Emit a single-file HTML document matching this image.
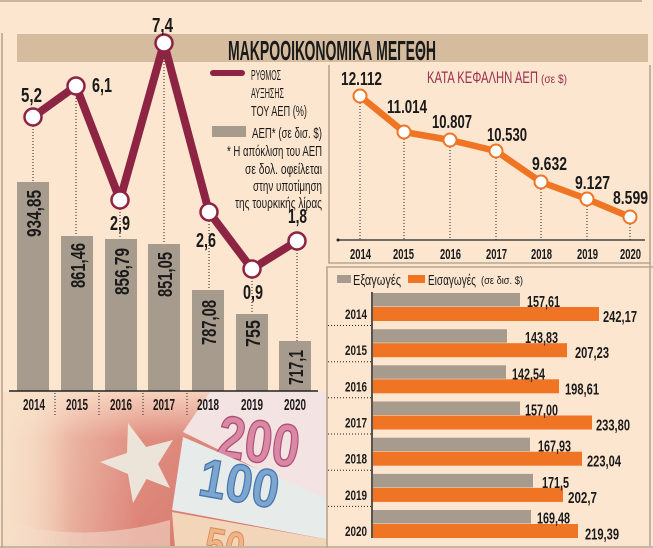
<!DOCTYPE html>
<html><head><meta charset="utf-8"><style>
html,body{margin:0;padding:0;background:#fde6cf;}
svg{display:block;}
text{font-family:"Liberation Sans",sans-serif;}
.b{font-weight:bold;fill:#1a1a1a;}
</style></head><body>
<svg width="653" height="548" viewBox="0 0 653 548" xmlns="http://www.w3.org/2000/svg">
<defs>
<linearGradient id="flag" x1="0" y1="0" x2="1" y2="0">
<stop offset="0" stop-color="#f6dcc6"/>
<stop offset="0.1" stop-color="#f1cdb6"/>
<stop offset="0.25" stop-color="#e6a696"/>
<stop offset="0.42" stop-color="#dc8276"/>
<stop offset="1" stop-color="#cf6a62"/>
</linearGradient>
<linearGradient id="fadeTop" x1="0" y1="0" x2="0" y2="1">
<stop offset="0" stop-color="#fde6cf" stop-opacity="0.8"/>
<stop offset="0.3" stop-color="#fde6cf" stop-opacity="0.12"/>
<stop offset="1" stop-color="#fde6cf" stop-opacity="0"/>
</linearGradient>
<linearGradient id="fadeLeft" x1="0" y1="0" x2="1" y2="0">
<stop offset="0" stop-color="#f8e0c8" stop-opacity="0.85"/>
<stop offset="1" stop-color="#f8e0c8" stop-opacity="0"/>
</linearGradient>
<clipPath id="photo"><rect x="3" y="392" width="323" height="154"/></clipPath>
</defs>
<rect width="653" height="548" fill="#fde6cf"/>

<!-- photo -->
<g clip-path="url(#photo)">
<rect x="0" y="392" width="330" height="156" fill="url(#flag)"/>
<path d="M0 520 Q80 545 170 520 L170 548 L0 548 Z" fill="#f1d9c8" opacity="0.6"/>
<polygon points="128,423 146,447 173,440 158,464 170,488 146.5,479 133,503 128,474 100,462 127,453" fill="#ebe4da"/>
<rect x="0" y="392" width="330" height="156" fill="url(#fadeTop)"/>
<rect x="0" y="392" width="70" height="156" fill="url(#fadeLeft)"/>
<polygon points="210,392 330,392 330,505 183,432" fill="#f3e3e2"/>
<text x="218" y="462" font-size="60" font-weight="bold" textLength="82" lengthAdjust="spacingAndGlyphs" fill="#d988a6" stroke="#b04f74" stroke-width="1.4" transform="rotate(8 258 440)">200</text>
<polygon points="183,437 330,500 330,540 172,510" fill="#e7ecea"/>
<text x="200" y="502" font-size="54" font-weight="bold" textLength="80" lengthAdjust="spacingAndGlyphs" fill="#7ca6d0" stroke="#4778ad" stroke-width="1.4" transform="rotate(10 240 480)">100</text>
<polygon points="172,512 330,540 330,548 175,548" fill="#f3d5ba"/>
<text x="205" y="562" font-size="46" font-weight="bold" textLength="40" lengthAdjust="spacingAndGlyphs" fill="#eeb48a" stroke="#d98850" stroke-width="1" transform="rotate(10 225 545)">50</text>
</g>

<!-- frame lines -->
<g stroke="#b8a690" stroke-width="1.6" fill="none">
<line x1="0" y1="1" x2="642" y2="1"/>
<line x1="2" y1="33" x2="2" y2="548"/>
<line x1="0" y1="547" x2="653" y2="547"/>
<polyline points="329,65 329,263 651,263"/>
<line x1="650" y1="65" x2="650" y2="546"/>
<polyline points="327,548 327,267 653,267"/>
</g>

<!-- title bar -->
<rect x="17" y="34" width="631" height="28" fill="#d5bc9e"/>
<text class="b" x="228" y="60" font-size="28" textLength="208" lengthAdjust="spacingAndGlyphs">ΜΑΚΡΟΟΙΚΟΝΟΜΙΚΑ ΜΕΓΕΘΗ</text>

<!-- left bars -->
<g fill="#a69b8c">
<rect x="17" y="182" width="32" height="209"/>
<rect x="61" y="236" width="32" height="155"/>
<rect x="105" y="239" width="32" height="152"/>
<rect x="148" y="244" width="32" height="147"/>
<rect x="192" y="290" width="32" height="101"/>
<rect x="236" y="314" width="32" height="77"/>
<rect x="279" y="341" width="32" height="50"/>
</g>
<g class="b" font-size="20">
<text class="b" transform="translate(41,237) rotate(-90)" textLength="47" lengthAdjust="spacingAndGlyphs">934,85</text>
<text class="b" transform="translate(85,288) rotate(-90)" textLength="45" lengthAdjust="spacingAndGlyphs">861,46</text>
<text class="b" transform="translate(129,295) rotate(-90)" textLength="47" lengthAdjust="spacingAndGlyphs">856,79</text>
<text class="b" transform="translate(172,297) rotate(-90)" textLength="45" lengthAdjust="spacingAndGlyphs">851,05</text>
<text class="b" transform="translate(216,345) rotate(-90)" textLength="45" lengthAdjust="spacingAndGlyphs">787,08</text>
<text class="b" transform="translate(260,347) rotate(-90)" textLength="27" lengthAdjust="spacingAndGlyphs">755</text>
<text class="b" transform="translate(303,385) rotate(-90)" textLength="35" lengthAdjust="spacingAndGlyphs">717,1</text>
</g>

<!-- dotted lines left -->
<g stroke="#222" stroke-width="1" stroke-dasharray="1,2">
<line x1="33" y1="126" x2="33" y2="182"/>
<line x1="76" y1="95" x2="76" y2="236"/>
<line x1="120" y1="209" x2="120" y2="239"/>
<line x1="164" y1="52" x2="164" y2="244"/>
<line x1="209" y1="221" x2="209" y2="290"/>
<line x1="252" y1="278" x2="252" y2="314"/>
<line x1="297" y1="250" x2="297" y2="341"/>
<line x1="55" y1="393" x2="55" y2="415"/>
<line x1="99" y1="393" x2="99" y2="415"/>
<line x1="143" y1="393" x2="143" y2="415"/>
<line x1="187" y1="393" x2="187" y2="415"/>
</g>
<line x1="9" y1="391" x2="318" y2="391" stroke="#222" stroke-width="1.5"/>
<g font-size="16">
<text class="b" x="23" y="410" textLength="22" lengthAdjust="spacingAndGlyphs">2014</text>
<text class="b" x="66" y="410" textLength="22" lengthAdjust="spacingAndGlyphs">2015</text>
<text class="b" x="110" y="410" textLength="22" lengthAdjust="spacingAndGlyphs">2016</text>
<text class="b" x="153" y="410" textLength="22" lengthAdjust="spacingAndGlyphs">2017</text>
<text class="b" x="197" y="410" textLength="22" lengthAdjust="spacingAndGlyphs">2018</text>
<text class="b" x="241" y="410" textLength="22" lengthAdjust="spacingAndGlyphs">2019</text>
<text class="b" x="284" y="410" textLength="22" lengthAdjust="spacingAndGlyphs">2020</text>
</g>

<!-- burgundy line -->
<polyline points="33,117 76,86 120,200 164,43 209,212 252,269 297,241" fill="none" stroke="#8e2443" stroke-width="8" stroke-linejoin="round"/>
<g fill="#fff" stroke="#8e2443" stroke-width="2.5">
<circle cx="33" cy="117" r="8.5"/>
<circle cx="76" cy="86" r="8.5"/>
<circle cx="120" cy="200" r="8.5"/>
<circle cx="164" cy="43" r="8.5"/>
<circle cx="209" cy="212" r="8.5"/>
<circle cx="252" cy="269" r="8.5"/>
<circle cx="297" cy="241" r="8.5"/>
</g>
<g font-size="20">
<text class="b" x="21" y="102" textLength="21" lengthAdjust="spacingAndGlyphs">5,2</text>
<text class="b" x="92" y="92" textLength="20" lengthAdjust="spacingAndGlyphs">6,1</text>
<text class="b" x="110" y="230" textLength="20" lengthAdjust="spacingAndGlyphs">2,9</text>
<text class="b" x="152" y="32" textLength="21" lengthAdjust="spacingAndGlyphs">7,4</text>
<text class="b" x="196" y="247" textLength="20" lengthAdjust="spacingAndGlyphs">2,6</text>
<text class="b" x="243" y="299" textLength="20" lengthAdjust="spacingAndGlyphs">0,9</text>
<text class="b" x="288" y="223" textLength="19" lengthAdjust="spacingAndGlyphs">1,8</text>
</g>

<!-- legend left -->
<line x1="213" y1="73" x2="242" y2="73" stroke="#8e2443" stroke-width="6" stroke-linecap="round"/>
<g font-size="15" fill="#1a1a1a">
<text x="251" y="80" textLength="30" lengthAdjust="spacingAndGlyphs">ΡΥΘΜΟΣ</text>
<text x="251" y="98" textLength="33" lengthAdjust="spacingAndGlyphs">ΑΥΞΗΣΗΣ</text>
<text x="251" y="116" textLength="56" lengthAdjust="spacingAndGlyphs">ΤΟΥ ΑΕΠ (%)</text>
<text x="252" y="138" textLength="70" lengthAdjust="spacingAndGlyphs">ΑΕΠ* (σε δισ. $)</text>
<text x="227" y="156" textLength="95" lengthAdjust="spacingAndGlyphs">* Η απόκλιση του ΑΕΠ</text>
<text x="245" y="174" textLength="77" lengthAdjust="spacingAndGlyphs">σε δολ. οφείλεται</text>
<text x="253" y="191" textLength="69" lengthAdjust="spacingAndGlyphs">στην υποτίμηση</text>
<text x="235" y="208" textLength="87" lengthAdjust="spacingAndGlyphs">της τουρκικής λίρας</text>
</g>
<rect x="212" y="126" width="34" height="11" fill="#a69b8c"/>

<!-- right top chart -->
<text x="427" y="83" font-size="17" fill="#9a2f4e" textLength="111" lengthAdjust="spacingAndGlyphs">ΚΑΤΑ ΚΕΦΑΛΗΝ ΑΕΠ</text>
<text x="541" y="83" font-size="12" fill="#9a2f4e" textLength="26" lengthAdjust="spacingAndGlyphs">(σε $)</text>
<g stroke="#222" stroke-width="1" stroke-dasharray="1,2">
<line x1="360" y1="103" x2="360" y2="240"/>
<line x1="404" y1="139" x2="404" y2="240"/>
<line x1="450" y1="147" x2="450" y2="240"/>
<line x1="496" y1="158" x2="496" y2="240"/>
<line x1="541" y1="189" x2="541" y2="240"/>
<line x1="587" y1="206" x2="587" y2="240"/>
<line x1="630" y1="224" x2="630" y2="240"/>
</g>
<line x1="338" y1="240" x2="645" y2="240" stroke="#222" stroke-width="1.3"/>
<circle cx="338" cy="240" r="1.5" fill="#222"/>
<polyline points="360,96 404,132 450,140 496,151 541,182 587,199 630,217" fill="none" stroke="#ef7424" stroke-width="6.5" stroke-linejoin="round"/>
<g fill="#fff" stroke="#ef7424" stroke-width="2">
<circle cx="360" cy="96" r="6.5"/>
<circle cx="404" cy="132" r="6.5"/>
<circle cx="450" cy="140" r="6.5"/>
<circle cx="496" cy="151" r="6.5"/>
<circle cx="541" cy="182" r="6.5"/>
<circle cx="587" cy="199" r="6.5"/>
<circle cx="630" cy="217" r="6.5"/>
</g>
<g font-size="18">
<text class="b" x="341" y="85" textLength="41" lengthAdjust="spacingAndGlyphs">12.112</text>
<text class="b" x="387" y="113" textLength="40" lengthAdjust="spacingAndGlyphs">11.014</text>
<text class="b" x="432" y="128" textLength="40" lengthAdjust="spacingAndGlyphs">10.807</text>
<text class="b" x="487" y="141" textLength="40" lengthAdjust="spacingAndGlyphs">10.530</text>
<text class="b" x="532" y="170" textLength="35" lengthAdjust="spacingAndGlyphs">9.632</text>
<text class="b" x="575" y="189" textLength="35" lengthAdjust="spacingAndGlyphs">9.127</text>
<text class="b" x="613" y="204" textLength="35" lengthAdjust="spacingAndGlyphs">8.599</text>
</g>
<g font-size="15">
<text class="b" x="350" y="259" textLength="21" lengthAdjust="spacingAndGlyphs">2014</text>
<text class="b" x="393" y="259" textLength="21" lengthAdjust="spacingAndGlyphs">2015</text>
<text class="b" x="440" y="259" textLength="21" lengthAdjust="spacingAndGlyphs">2016</text>
<text class="b" x="486" y="259" textLength="21" lengthAdjust="spacingAndGlyphs">2017</text>
<text class="b" x="531" y="259" textLength="21" lengthAdjust="spacingAndGlyphs">2018</text>
<text class="b" x="577" y="259" textLength="21" lengthAdjust="spacingAndGlyphs">2019</text>
<text class="b" x="620" y="259" textLength="21" lengthAdjust="spacingAndGlyphs">2020</text>
</g>

<!-- right bottom chart -->
<rect x="337" y="275" width="14" height="8" fill="#a69b8c"/>
<text x="353" y="285" font-size="15" fill="#1a1a1a" textLength="48" lengthAdjust="spacingAndGlyphs">Εξαγωγές</text>
<rect x="408" y="275" width="17" height="8" fill="#ef7424"/>
<text x="428" y="285" font-size="15" fill="#1a1a1a" textLength="48" lengthAdjust="spacingAndGlyphs">Εισαγωγές</text>
<text x="481" y="284" font-size="11" fill="#1a1a1a" textLength="42" lengthAdjust="spacingAndGlyphs">(σε δισ. $)</text>

<g fill="#a69b8c">
<rect x="373" y="293" width="147" height="13.5"/>
<rect x="373" y="329.2" width="134" height="13.5"/>
<rect x="373" y="365.3" width="133" height="13.5"/>
<rect x="373" y="401.5" width="147" height="13.5"/>
<rect x="373" y="437.7" width="157" height="13.5"/>
<rect x="373" y="473.9" width="160" height="13.5"/>
<rect x="373" y="510" width="158" height="13.5"/>
</g>
<g fill="#ef7424">
<rect x="373" y="307" width="226" height="14"/>
<rect x="373" y="343.2" width="194" height="14"/>
<rect x="373" y="379.3" width="186" height="14"/>
<rect x="373" y="415.5" width="219" height="14"/>
<rect x="373" y="451.7" width="209" height="14"/>
<rect x="373" y="487.9" width="190" height="14"/>
<rect x="373" y="524" width="205" height="14"/>
</g>
<line x1="372" y1="292" x2="372" y2="538" stroke="#222" stroke-width="1.5"/>
<g stroke="#222" stroke-width="1" stroke-dasharray="1,2">
<line x1="328" y1="325.5" x2="371" y2="325.5"/>
<line x1="328" y1="361.7" x2="371" y2="361.7"/>
<line x1="328" y1="397.8" x2="371" y2="397.8"/>
<line x1="328" y1="434" x2="371" y2="434"/>
<line x1="328" y1="470.2" x2="371" y2="470.2"/>
<line x1="328" y1="506.4" x2="371" y2="506.4"/>
</g>
<g font-size="14">
<text class="b" x="345" y="319" textLength="22" lengthAdjust="spacingAndGlyphs">2014</text>
<text class="b" x="345" y="355.2" textLength="22" lengthAdjust="spacingAndGlyphs">2015</text>
<text class="b" x="345" y="391.3" textLength="22" lengthAdjust="spacingAndGlyphs">2016</text>
<text class="b" x="345" y="427.5" textLength="22" lengthAdjust="spacingAndGlyphs">2017</text>
<text class="b" x="345" y="463.7" textLength="22" lengthAdjust="spacingAndGlyphs">2018</text>
<text class="b" x="345" y="499.9" textLength="22" lengthAdjust="spacingAndGlyphs">2019</text>
<text class="b" x="345" y="536" textLength="22" lengthAdjust="spacingAndGlyphs">2020</text>
</g>
<g font-size="16">
<text class="b" x="527" y="307" textLength="33" lengthAdjust="spacingAndGlyphs">157,61</text>
<text class="b" x="525" y="343.2" textLength="33" lengthAdjust="spacingAndGlyphs">143,83</text>
<text class="b" x="512" y="379.3" textLength="33" lengthAdjust="spacingAndGlyphs">142,54</text>
<text class="b" x="525" y="415.5" textLength="33" lengthAdjust="spacingAndGlyphs">157,00</text>
<text class="b" x="538" y="451.7" textLength="33" lengthAdjust="spacingAndGlyphs">167,93</text>
<text class="b" x="542" y="487.9" textLength="27" lengthAdjust="spacingAndGlyphs">171,5</text>
<text class="b" x="537" y="523.5" textLength="33" lengthAdjust="spacingAndGlyphs">169,48</text>
<text class="b" x="603" y="322" textLength="34" lengthAdjust="spacingAndGlyphs">242,17</text>
<text class="b" x="575" y="358.2" textLength="34" lengthAdjust="spacingAndGlyphs">207,23</text>
<text class="b" x="565" y="394.3" textLength="34" lengthAdjust="spacingAndGlyphs">198,61</text>
<text class="b" x="596" y="430.5" textLength="34" lengthAdjust="spacingAndGlyphs">233,80</text>
<text class="b" x="587" y="466.7" textLength="34" lengthAdjust="spacingAndGlyphs">223,04</text>
<text class="b" x="568" y="502.9" textLength="29" lengthAdjust="spacingAndGlyphs">202,7</text>
<text class="b" x="585" y="539.5" textLength="34" lengthAdjust="spacingAndGlyphs">219,39</text>
</g>
</svg>
</body></html>
